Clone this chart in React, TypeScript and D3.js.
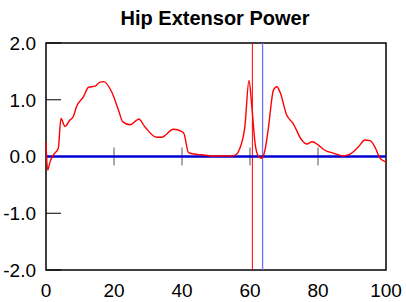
import React from "react";
import * as d3 from "d3";

const title = "Hip Extensor Power";
const xTicks = [0, 20, 40, 60, 80, 100];
const yTicks = [-2, -1, 0, 1, 2];
const innerXTicks = [20, 40, 60, 80];
const redMarker = 60.7;
const blueMarker = 63.7;

const pctX = [0, 0.5, 1.2, 2.2, 3.6, 4.4, 5.6, 7, 8, 9, 11, 12.5, 14.4, 15.9, 17, 19.3, 21.3, 22.6, 24.7, 26.7, 27.3, 29, 32.5, 34, 37.5, 40, 40.6, 41.9, 44, 45.8, 49, 54, 55.5, 57, 58.5, 59.7, 60.5, 61.5, 62.5, 63.4, 64.4, 65.4, 66.9, 67.9, 68.8, 70.8, 72.7, 75.2, 76.7, 78.3, 80.1, 82, 84.5, 87.4, 89.4, 91.9, 93.8, 95.3, 96.8, 98.2, 99.7, 100];
const power = [0.25, -0.24, -0.09, 0.03, 0.14, 0.67, 0.53, 0.64, 0.7, 0.88, 1.05, 1.22, 1.24, 1.31, 1.32, 1.14, 0.82, 0.61, 0.56, 0.64, 0.66, 0.53, 0.34, 0.34, 0.48, 0.44, 0.4, 0.07, 0.04, 0.03, 0.01, 0.01, 0.02, 0.14, 0.53, 1.34, 0.91, 0.23, 0.0, -0.03, 0.11, 0.5, 1.17, 1.23, 1.14, 0.73, 0.58, 0.29, 0.22, 0.26, 0.2, 0.11, 0.06, 0.01, 0.04, 0.17, 0.29, 0.28, 0.16, -0.03, -0.09, -0.1];

export default function App() {
  const W = 406, H = 302;
  const L = 46, R = 386, T = 43, B = 270;
  const x = d3.scaleLinear().domain([0, 100]).range([L, R]);
  const y = d3.scaleLinear().domain([-2, 2]).range([B, T]);
  const data = pctX.map((p, i) => [p, power[i]] as [number, number]);
  const line = d3.line<[number, number]>().x(d => x(d[0])).y(d => y(d[1])).curve(d3.curveMonotoneX);
  const font = "'Liberation Sans', Arial, sans-serif";
  return (
    <svg width={W} height={H} style={{ position: "absolute", left: 0, top: 0 }} fontFamily={font}>
      <rect width={W} height={H} fill="#fff" />
      <text x={215} y={25} textAnchor="middle" fontSize={20} fontWeight="bold">{title}</text>
      <rect x={L} y={T} width={R - L} height={B - T} fill="none" stroke="#000" strokeWidth={1.5} />
      {yTicks.map(t => (
        <g key={t}>
          <line x1={L} x2={L + 15} y1={y(t)} y2={y(t)} stroke="#000" strokeWidth={1} />
          <text x={36} y={y(t)} dy="0.36em" textAnchor="end" fontSize={19}>{t.toFixed(1)}</text>
        </g>
      ))}
      {xTicks.map(t => (
        <text key={t} x={x(t)} y={297} textAnchor="middle" fontSize={19}>{t}</text>
      ))}
      {innerXTicks.map(t => (
        <line key={t} x1={x(t)} x2={x(t)} y1={y(0) - 9} y2={y(0) + 9} stroke="#555" strokeWidth={1} />
      ))}
      <line x1={x(redMarker)} x2={x(redMarker)} y1={T} y2={B} stroke="#ff0000" strokeWidth={1} />
      <line x1={x(blueMarker)} x2={x(blueMarker)} y1={T} y2={B} stroke="#7070ff" strokeWidth={1.3} />
      <line x1={L} x2={R} y1={y(0)} y2={y(0)} stroke="#0000d0" strokeWidth={2.5} />
      <path d={line(data) ?? ""} fill="none" stroke="#ff0000" strokeWidth={1.4} />
    </svg>
  );
}
